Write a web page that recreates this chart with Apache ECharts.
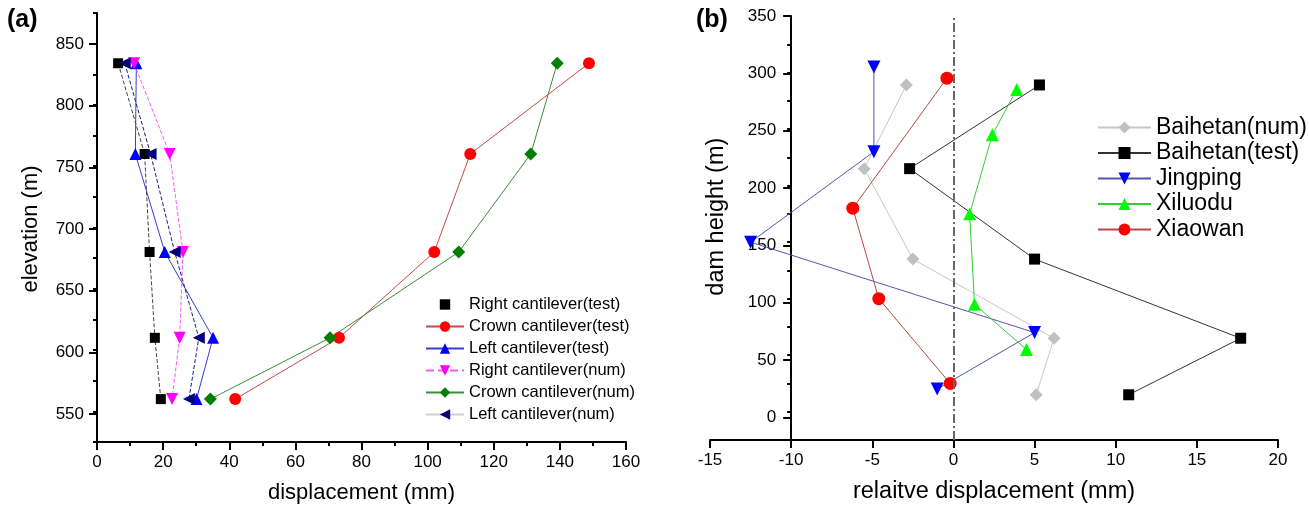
<!DOCTYPE html>
<html>
<head>
<meta charset="utf-8">
<script src="https://cdn.jsdelivr.net/npm/echarts@6/dist/echarts.min.js"></script>
<style>
html,body{margin:0;padding:0;background:#fff;}
#main{width:1309px;height:509px;}
</style>
</head>
<body>
<div id="main"></div>
<script>
// ---------- data: panel (a) ----------
const elevation   = [834, 760, 680, 610, 560];
const rightTest   = [6.4, 14.4, 15.9, 17.5, 19.3];
const crownTest   = [148.8, 112.9, 102.0, 73.2, 41.8];
const leftTest    = [11.9, 11.6, 20.5, 35.1, 30.1];
const rightNum    = [11.2, 22.0, 26.0, 25.0, 22.7];
const crownNum    = [139.2, 131.2, 109.4, 70.5, 34.3];
const leftNum     = [8.4, 16.2, 23.5, 30.8, 27.8];
const aXTicks     = [0, 20, 40, 60, 80, 100, 120, 140, 160];
const aYTicks     = [550, 600, 650, 700, 750, 800, 850];
const aYRange     = [525, 875];

// ---------- data: panel (b) ----------
const heightBaihetan = [289, 215, 135, 65, 15];
const baihetanNum    = [-2.9, -5.5, -2.5, 6.2, 5.1];
const baihetanTest   = [5.3, -2.7, 5.0, 17.7, 10.8];
const heightJingping = [305, 230, 150, 70, 20];
const jingping       = [-4.9, -4.9, -12.5, 5.0, -1.0];
const heightXiluodu  = [285, 245, 175, 95, 55];
const xiluodu        = [3.9, 2.4, 1.0, 1.3, 4.5];
const heightXiaowan  = [295, 180, 100, 25];
const xiaowan        = [-0.4, -6.2, -4.6, -0.2];
const bXTicks        = [-15, -10, -5, 0, 5, 10, 15, 20];
const bYTicks        = [0, 50, 100, 150, 200, 250, 300, 350];
const bYRange        = [-25, 350];
const bYAxisAt       = -10;

// ---------- layout ----------
const FONT = '"Liberation Sans", Arial, sans-serif';
const A = {left: 97, right: 626, top: 13, bottom: 445};
const B = {left: 710, right: 1278, top: 16, bottom: 446};

function zip(xs, ys){ return xs.map((x,i)=>[x, ys[i]]); }
function mapY(g, min, max, v){ return g.bottom - (v-min)/(max-min)*(g.bottom-g.top); }
function mapX(g, min, max, v){ return g.left + (v-min)/(max-min)*(g.right-g.left); }

const aSubTop = mapY(A, aYRange[0], aYRange[1], aYTicks[aYTicks.length-1]);
const aSubBot = mapY(A, aYRange[0], aYRange[1], aYTicks[0]);
const bSubTop = mapY(B, bYRange[0], bYRange[1], bYTicks[bYTicks.length-1]);
const bSubBot = mapY(B, bYRange[0], bYRange[1], bYTicks[0]);
const bAxisOffset = -(mapX(B, bXTicks[0], bXTicks[bXTicks.length-1], bYAxisAt) - B.left);

const axisLineStyle = {color:'#000', width:2};
const labelStyle = {color:'#000', fontSize:17, fontFamily:FONT};
const nameStyleA = {color:'#000', fontSize:22, fontFamily:FONT};
const nameStyleB = {color:'#000', fontSize:23.5, fontFamily:FONT};

const chart = echarts.init(document.getElementById('main'), null, {renderer:'canvas'});

function lineSeries(name, xi, yi, data, symbol, size, color, lineColor, lineType, rotate){
  return {
    name, type:'line', xAxisIndex:xi, yAxisIndex:yi, data,
    symbol, symbolSize:size, symbolRotate: rotate||0,
    itemStyle:{color, opacity:1},
    lineStyle:{color:lineColor, width:1, type:lineType},
    emphasis:{disabled:true}, z:3
  };
}

const option = {
  animation:false,
  backgroundColor:'#fff',
  textStyle:{fontFamily:FONT},
  grid:[
    {left:A.left, top:A.top, width:A.right-A.left, height:A.bottom-A.top},
    {left:A.left, top:aSubTop, width:A.right-A.left, height:aSubBot-aSubTop},
    {left:B.left, top:B.top, width:B.right-B.left, height:B.bottom-B.top},
    {left:B.left, top:bSubTop, width:B.right-B.left, height:bSubBot-bSubTop}
  ],
  xAxis:[
    {gridIndex:0, type:'value', min:aXTicks[0], max:aXTicks[aXTicks.length-1], interval:aXTicks[1]-aXTicks[0],
     name:'displacement (mm)', nameLocation:'middle', nameGap:40, nameTextStyle:nameStyleA,
     axisLine:{show:true, onZero:false, lineStyle:axisLineStyle},
     axisTick:{show:true, length:8, lineStyle:{color:'#000', width:2}},
     minorTick:{show:true, splitNumber:2, length:4, lineStyle:{color:'#000', width:2}},
     axisLabel:{...labelStyle, margin:12}, splitLine:{show:false}},
    {gridIndex:1, type:'value', min:0, max:1, show:false},
    {gridIndex:2, type:'value', min:bXTicks[0], max:bXTicks[bXTicks.length-1], interval:bXTicks[1]-bXTicks[0],
     name:'relaitve displacement (mm)', nameLocation:'middle', nameGap:40, nameTextStyle:nameStyleB,
     axisLine:{show:true, onZero:false, lineStyle:axisLineStyle},
     axisTick:{show:true, length:8, lineStyle:{color:'#000', width:2}},
     axisLabel:{...labelStyle, margin:12}, splitLine:{show:false}},
    {gridIndex:3, type:'value', min:0, max:1, show:false}
  ],
  yAxis:[
    {gridIndex:0, type:'value', min:aYRange[0], max:aYRange[1], interval:25,
     axisLine:{show:true, onZero:false, lineStyle:axisLineStyle},
     axisTick:{show:true, length:4, lineStyle:{color:'#000', width:2}},
     axisLabel:{show:false}, splitLine:{show:false}},
    {gridIndex:1, type:'value', min:aYTicks[0], max:aYTicks[aYTicks.length-1], interval:aYTicks[1]-aYTicks[0],
     name:'elevation (m)', nameLocation:'middle', nameGap:55, nameTextStyle:nameStyleA,
     axisLine:{show:false},
     axisTick:{show:true, length:8, lineStyle:{color:'#000', width:2}},
     axisLabel:{...labelStyle, margin:13}, splitLine:{show:false}},
    {gridIndex:2, type:'value', min:bYRange[0], max:bYRange[1], interval:25, offset:bAxisOffset,
     axisLine:{show:true, onZero:false, lineStyle:axisLineStyle},
     axisTick:{show:true, length:4, lineStyle:{color:'#000', width:2}},
     axisLabel:{show:false}, splitLine:{show:false}},
    {gridIndex:3, type:'value', min:bYTicks[0], max:bYTicks[bYTicks.length-1], interval:bYTicks[1]-bYTicks[0], offset:bAxisOffset,
     name:'dam height (m)', nameLocation:'middle', nameGap:63, nameTextStyle:nameStyleB,
     axisLine:{show:false},
     axisTick:{show:true, length:8, lineStyle:{color:'#000', width:2}},
     axisLabel:{...labelStyle, margin:15}, splitLine:{show:false}}
  ],
  legend:[
    {orient:'vertical', left:425, top:296, padding:0, itemWidth:38, itemHeight:13, itemGap:5,
     textStyle:{color:'#000', fontSize:16.5, fontFamily:FONT}, selectedMode:false,
     data:[
       {name:'Right cantilever(test)', lineStyle:{opacity:0}},
       'Crown cantilever(test)','Left cantilever(test)','Right cantilever(num)','Crown cantilever(num)',
       {name:'Left cantilever(num)', lineStyle:{color:'#d0d0d0', type:'solid'}}
     ]},
    {orient:'vertical', left:1097, top:116, padding:0, itemWidth:53, itemHeight:15, itemGap:2.5,
     textStyle:{color:'#000', fontSize:23, fontFamily:FONT}, selectedMode:false,
     data:['Baihetan(num)','Baihetan(test)','Jingping','Xiluodu','Xiaowan']}
  ],
  graphic:[
    {type:'text', left:7, top:8, style:{text:'(a)', font:'bold 25px '+FONT, fill:'#000'}},
    {type:'text', left:696, top:8, style:{text:'(b)', font:'bold 25px '+FONT, fill:'#000'}}
  ],
  series:[
    lineSeries('Right cantilever(test)',0,0,zip(rightTest,elevation),'rect',10,'#000','#444','dashed'),
    lineSeries('Crown cantilever(test)',0,0,zip(crownTest,elevation),'circle',12,'#ff0000','#c84848','solid'),
    lineSeries('Left cantilever(test)',0,0,zip(leftTest,elevation),'triangle',12,'#0000ff','#3a3ad0','solid'),
    lineSeries('Right cantilever(num)',0,0,zip(rightNum,elevation),'triangle',12,'#ff00ff','#ff55ff','dashed',180),
    lineSeries('Crown cantilever(num)',0,0,zip(crownNum,elevation),'diamond',13,'#007f00','#3c8c3c','solid'),
    lineSeries('Left cantilever(num)',0,0,zip(leftNum,elevation),'triangle',12,'#00007f','#1a1a80','dashed',90),
    Object.assign(lineSeries('Baihetan(num)',2,2,zip(baihetanNum,heightBaihetan),'diamond',13,'#c0c0c0','#c8c8c8','solid'),{
      markLine:{silent:true, symbol:'none', label:{show:false},
        lineStyle:{color:'#666', width:2, type:[9,3,2,3]},
        data:[{xAxis:0}]}
    }),
    lineSeries('Baihetan(test)',2,2,zip(baihetanTest,heightBaihetan),'rect',11,'#000','#333','solid'),
    lineSeries('Jingping',2,2,zip(jingping,heightJingping),'triangle',13,'#0000ff','#5555b0','solid',180),
    lineSeries('Xiluodu',2,2,zip(xiluodu,heightXiluodu),'triangle',13,'#00ff00','#33cc33','solid'),
    lineSeries('Xiaowan',2,2,zip(xiaowan,heightXiaowan),'circle',13,'#ff0000','#b84848','solid')
  ]
};
chart.setOption(option);
</script>
</body>
</html>
